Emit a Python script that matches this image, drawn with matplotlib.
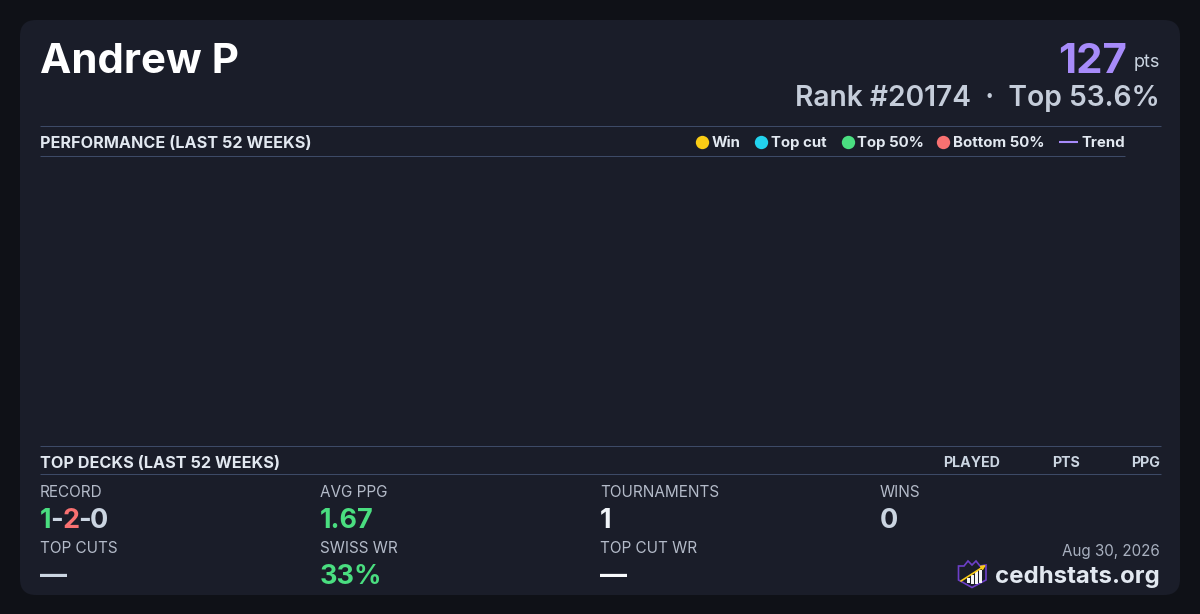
import matplotlib
matplotlib.use('Agg')
import matplotlib.pyplot as plt
from matplotlib.patches import FancyBboxPatch, Polygon, Rectangle

plt.rcParams['font.family'] = ['Inter', 'DejaVu Sans']

# data
player = 'Andrew P'
points = '127'
rank_line = 'Rank #20174  ·  Top 53.6%'
legend_labels = ['Win', 'Top cut', 'Top 50%', 'Bottom 50%']
legend_colors = ['#facc15', '#22d3ee', '#4ade80', '#f87171']
deck_columns = ['PLAYED', 'PTS', 'PPG']
stat_labels = ['RECORD', 'AVG PPG', 'TOURNAMENTS', 'WINS', 'TOP CUTS', 'SWISS WR', 'TOP CUT WR']
stat_values = [None, '1.67', '1', '0', '—', '33%', '—']
stat_colors = [None, '#4ade80', '#f1f5f9', '#cbd5e1', '#cbd5e1', '#4ade80', '#f8fafc']
record_parts = ['1', '-', '2', '-', '0']
record_colors = ['#4ade80', '#cbd5e1', '#f87171', '#cbd5e1', '#cbd5e1']
date_text = 'Aug 30, 2026'
site = 'cedhstats.org'

BG = '#0f1117'
CARD = '#1a1d29'
RULE = '#3d4a66'
PURPLE = '#a78bfa'


def px(size):
    # css pixels to points at dpi 100
    return size * 0.72


fig = plt.figure(figsize=(12, 6.14), dpi=100, facecolor=BG)
ax = fig.add_axes([0, 0, 1, 1])
ax.set_xlim(0, 1200)
ax.set_ylim(614, 0)
ax.axis('off')

ax.add_patch(FancyBboxPatch((36, 36), 1128, 543, boxstyle='round,pad=16,rounding_size=16',
                            fc=CARD, ec='none'))

# header
ax.text(40, 73, player, fontsize=px(42), fontweight='bold', color='#ffffff', va='baseline')
ax.text(1127, 73, points, fontsize=px(42), fontweight='bold', color=PURPLE, ha='right', va='baseline')
ax.text(1160, 67, 'pts', fontsize=px(18), color='#cbd5e1', ha='right', va='baseline')
ax.text(1160, 106, rank_line, fontsize=px(28.2), fontweight='semibold', color='#c5cdda',
        ha='right', va='baseline')

# section rules
for y, x1 in [(125.8, 1161), (155.8, 1125), (445.8, 1161), (473.8, 1161)]:
    ax.plot([40, x1], [y, y], color=RULE, lw=0.75, solid_capstyle='butt')

ax.text(40, 142, 'PERFORMANCE (LAST 52 WEEKS)', fontsize=px(16.2), fontweight='bold',
        color='#e2e8f0', va='center_baseline')
ax.text(40, 462, 'TOP DECKS (LAST 52 WEEKS)', fontsize=px(16.2), fontweight='bold',
        color='#e2e8f0', va='center_baseline')

# legend
marker_x = [702, 761, 847.5, 943]
label_x = [712, 771, 857, 953]
for mx, lx, lab, col in zip(marker_x, label_x, legend_labels, legend_colors):
    ax.plot([mx], [141.5], marker='o', ms=9.6, mfc=col, mec='none', ls='none')
    ax.text(lx, 141.5, lab, fontsize=px(15), fontweight='bold', color='#e2e8f0', va='center_baseline')
ax.plot([1059, 1078], [141.5, 141.5], color=PURPLE, lw=1.5, solid_capstyle='butt')
ax.text(1081, 141.5, 'Trend', fontsize=px(15), fontweight='bold', color='#e2e8f0', va='center_baseline')

# deck table columns
for right, name in zip([1000, 1080, 1160], deck_columns):
    ax.text(right, 461.5, name, fontsize=px(14.2), fontweight='bold', color='#cbd5e1',
            ha='right', va='center_baseline')

# stat grid
col_x = [40, 320, 600, 880, 40, 320, 600]
label_y = [491, 491, 491, 491, 547, 547, 547]
value_y = [528, 528, 528, 528, 584, 584, 584]
for x, ly, vy, lab, val, col in zip(col_x, label_y, value_y, stat_labels, stat_values, stat_colors):
    ax.text(x, ly, lab, fontsize=px(15.3), color='#b4bbc9', va='center_baseline')
    if val is not None:
        ax.text(x, vy, val, fontsize=px(27), fontweight='bold', color=col, va='baseline')

# record is coloured part by part
fig.canvas.draw()
renderer = fig.canvas.get_renderer()
x = 40
for part, col in zip(record_parts, record_colors):
    t = ax.text(x, 528, part, fontsize=px(27), fontweight='bold', color=col, va='baseline')
    x += t.get_window_extent(renderer).width - 1

# footer
ax.text(1160, 550, date_text, fontsize=px(15.2), color='#a8b0bf', ha='right', va='center_baseline')
ax.text(1160, 583, site, fontsize=px(24), fontweight='bold', color='#e2e8f0', ha='right', va='baseline')

# logo
shield = [(958.5, 566), (964, 566), (968, 561), (972, 565), (976, 561), (980, 566), (986, 565),
          (986, 580), (972, 587.5), (958.5, 580)]
ax.add_patch(Polygon(shield, closed=True, fc='#1a1d29', ec='#6d3fc8', lw=1.2))
for bx, bh, by in [(967, 5, 583), (971, 9, 584), (975, 13, 584), (979, 13, 583)]:
    ax.add_patch(Rectangle((bx, by - bh), 3, bh, fc='#f5f5f5', ec='none'))
ax.annotate('', xy=(986, 565), xytext=(961, 581),
            arrowprops=dict(arrowstyle='-|>', color='#facc15', lw=1.2, mutation_scale=6, shrinkA=0, shrinkB=0))

fig.savefig('out.png', dpi=100, facecolor=BG)
plt.close(fig)
